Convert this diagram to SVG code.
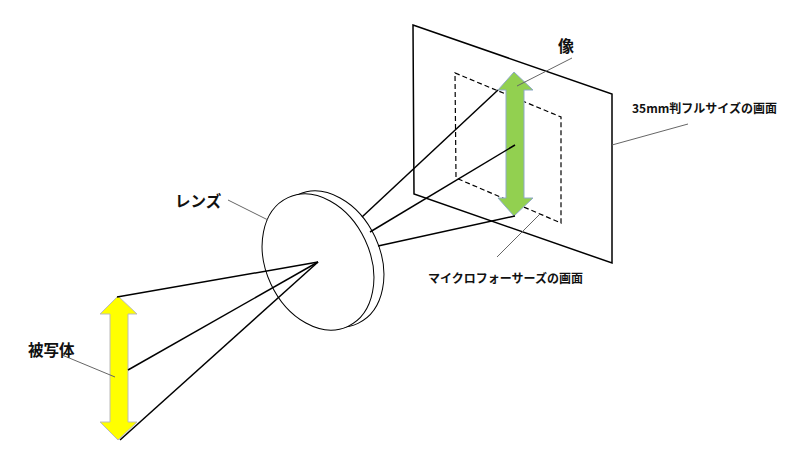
<svg xmlns="http://www.w3.org/2000/svg" width="800" height="466" viewBox="0 0 800 466">
<style>
.ray{stroke:#000;stroke-width:1.5;fill:none}
.lead{stroke:#666;stroke-width:1;fill:none}
.t{font-family:"Noto Sans CJK JP","Noto Sans",sans-serif;font-weight:bold;fill:#111}
</style>
<rect width="800" height="466" fill="#fff"/>
<g id="screen"><polygon points="413,25 612,94 612,263 414,194" fill="#fff" stroke="#000" stroke-width="1.5"/></g>
<g id="micro"><polygon points="455,73 561,117 561,223 456,178" fill="none" stroke="#000" stroke-width="1.2" stroke-dasharray="5,3"/></g>
<g id="lens">
<ellipse cx="328" cy="259" rx="52" ry="71" transform="rotate(-25 328 259)" fill="#fff" stroke="#000" stroke-width="1"/>
<ellipse cx="318" cy="262" rx="52" ry="71" transform="rotate(-25 318 262)" fill="#fff" stroke="#000" stroke-width="1"/>
</g>
<g id="image"><polygon points="514,72 533,90 524,90 524,198 533,198 514,216 498,198 506,198 506,90 498,90" fill="#92d050" stroke="#8ea9c8" stroke-width="1"/></g>
<g id="object"><polygon points="118,296 137,314 128,314 128,422 137,422 118,440 100,422 110,422 110,314 100,314" fill="#ffff00" stroke="#bbb" stroke-width="1"/></g>
<g id="connectors">
<line class="ray" x1="318" y1="262" x2="117" y2="297"/>
<line class="ray" x1="318" y1="262" x2="128" y2="370"/>
<line class="ray" x1="318" y1="262" x2="120" y2="440"/>
<line class="ray" x1="362" y1="217" x2="498" y2="90"/>
<line class="ray" x1="370" y1="232" x2="515" y2="145"/>
<line class="ray" x1="378" y1="246" x2="515" y2="216"/>
<line class="lead" x1="572" y1="58" x2="517" y2="86"/>
<line class="lead" x1="612" y1="145" x2="688" y2="124"/>
<line class="lead" x1="497" y1="257" x2="540" y2="214"/>
<line class="lead" x1="228" y1="200" x2="268" y2="220"/>
<line class="lead" x1="62" y1="355" x2="115" y2="377"/>
</g>
<text class="t" x="558" y="52" font-size="16">像</text>
<text class="t" x="632" y="113" font-size="12">35mm判フルサイズの画面</text>
<text class="t" x="428" y="283" font-size="12">マイクロフォーサーズの画面</text>
<text class="t" x="175" y="207" font-size="15.5">レンズ</text>
<text class="t" x="28" y="356" font-size="15.5">被写体</text>
</svg>
